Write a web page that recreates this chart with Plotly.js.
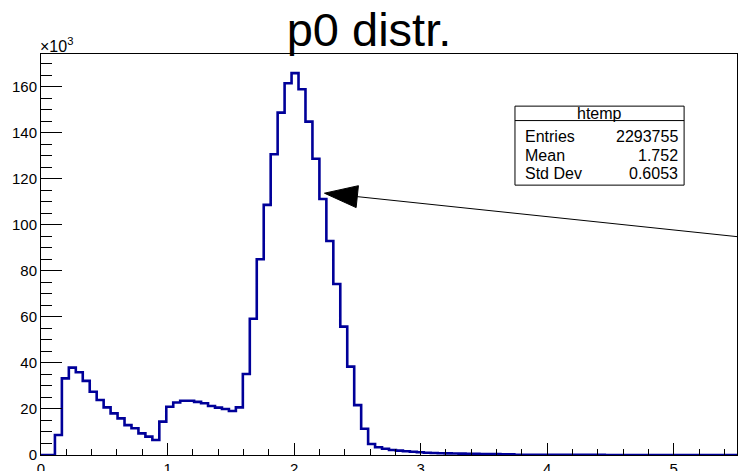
<!DOCTYPE html>
<html>
<head>
<meta charset="utf-8">
<script src="https://cdn.plot.ly/plotly-3.0.1.min.js"></script>
<style>
  html, body { margin: 0; padding: 0; background: #fff; }
  #plot { width: 738px; height: 471px; }
</style>
</head>
<body>
<div id="plot"></div>
<script>
// Histogram "htemp": 100 bins on [0, 5.5], contents in units of 10^3 entries
const binLow = 0.0;
const binHigh = 5.5;
const nBins = 100;
const binContents = [
  0, 0, 8.7, 33.3, 38.0, 36.0, 32.2, 27.5, 23.9, 20.7,
  18.1, 15.9, 13.0, 11.6, 9.4, 8.0, 6.5, 14.5, 21.0, 22.8,
  23.6, 23.6, 23.1, 22.5, 21.3, 20.6, 20.0, 19.1, 20.7, 35.2,
  59.2, 85.1, 108.7, 130.7, 148.8, 161.6, 166.0, 159.0, 144.9, 128.8,
  111.3, 93.0, 74.3, 55.8, 38.4, 21.7, 11.4, 4.8, 3.4, 2.7,
  2.2, 1.9, 1.6, 1.4, 1.2, 1.0, 0.9, 0.75, 0.7, 0.65,
  0.6, 0.55, 0.5, 0.45, 0.42, 0.38, 0.35, 0.32, 0.12, 0.11,
  0.10, 0.09, 0.08, 0.07, 0.07, 0.06, 0.05, 0.05, 0.04, 0.04,
  0.04, 0.03, 0.03, 0.03, 0.02, 0.02, 0.02, 0.02, 0.02, 0.01,
  0.01, 0.01, 0.01, 0.01, 0.01, 0.01, 0.01, 0.0, 0.0, 0.0
];

// Statistics box contents
const statsName = "htemp";
const statsLabels = ["Entries", "Mean", "Std Dev"];
const statsValues = ["2293755", "1.752", "0.6053"];

// Titles
const histTitle = "p0 distr.";
const yExponent = "\u00d710<sup>3</sup>";

// Arrow annotation (data coordinates: x, thousands of entries)
const arrowTip = [2.24, 113.8];
const arrowTail = [5.52, 94.8];
const arrowHeadLen = 33;   // px
const arrowHeadHalf = 11;  // px

// Figure geometry
const W = 738, H = 471;
const M = { l: 41, r: 1, t: 54, b: 16 };
const yMax = 174.3;
const FONT = "Liberation Sans, Arial, Helvetica, sans-serif";

// Step outline from bin edges
const binW = (binHigh - binLow) / nBins;
const xs = [], ys = [];
for (let i = 0; i < nBins; i++) {
  xs.push(binLow + i * binW);
  ys.push(binContents[i]);
}
xs.push(binHigh);
ys.push(binContents[nBins - 1]);

const hist = {
  type: "scatter",
  mode: "lines",
  x: xs,
  y: ys,
  line: { shape: "hv", color: "#000099", width: 2.6 },
  hoverinfo: "skip",
  showlegend: false
};

// Arrow head triangle computed in pixel space, expressed in data units
const pxX = (W - M.l - M.r) / (binHigh - binLow);
const pxY = (H - M.t - M.b) / yMax;
const dxp = (arrowTail[0] - arrowTip[0]) * pxX;
const dyp = -(arrowTail[1] - arrowTip[1]) * pxY;
const len = Math.hypot(dxp, dyp);
const ux = dxp / len, uy = dyp / len;
const bx = ux * arrowHeadLen, by = uy * arrowHeadLen;
const p1 = [arrowTip[0] + (bx - uy * arrowHeadHalf) / pxX, arrowTip[1] - (by + ux * arrowHeadHalf) / pxY];
const p2 = [arrowTip[0] + (bx + uy * arrowHeadHalf) / pxX, arrowTip[1] - (by - ux * arrowHeadHalf) / pxY];
const baseMid = [arrowTip[0] + bx / pxX, arrowTip[1] - by / pxY];

// Stats box in paper coordinates
const box = { x0: 0.681, x1: 0.924, y0: 0.673, y1: 0.870, sep: 0.834 };
const rowY = [0.795, 0.748, 0.702];

const shapes = [
  { type: "line", xref: "x", yref: "y", x0: baseMid[0], y0: baseMid[1], x1: arrowTail[0], y1: arrowTail[1],
    line: { color: "#000", width: 1 } },
  { type: "path", xref: "x", yref: "y",
    path: `M ${arrowTip[0]},${arrowTip[1]} L ${p1[0]},${p1[1]} L ${p2[0]},${p2[1]} Z`,
    fillcolor: "#000", line: { color: "#000", width: 1 } },
  { type: "rect", xref: "paper", yref: "paper", x0: box.x0, x1: box.x1, y0: box.y0, y1: box.y1,
    fillcolor: "#fff", line: { color: "#000", width: 1 } },
  { type: "line", xref: "paper", yref: "paper", x0: box.x0, x1: box.x1, y0: box.sep, y1: box.sep,
    line: { color: "#000", width: 1 } }
];

const annotations = [
  { xref: "paper", yref: "paper", x: -0.004, y: 0.992, xanchor: "left", yanchor: "bottom",
    text: yExponent, showarrow: false, font: { family: FONT, size: 16, color: "#000" } },
  { xref: "paper", yref: "paper", x: (box.x0 + box.x1) / 2, y: 0.851, xanchor: "center", yanchor: "middle",
    text: statsName, showarrow: false, font: { family: FONT, size: 16, color: "#000" } }
];
statsLabels.forEach((lab, i) => {
  annotations.push({ xref: "paper", yref: "paper", x: box.x0 + 0.012, y: rowY[i], xanchor: "left", yanchor: "middle",
    text: lab, showarrow: false, font: { family: FONT, size: 16, color: "#000" } });
  annotations.push({ xref: "paper", yref: "paper", x: box.x1 - 0.006, y: rowY[i], xanchor: "right", yanchor: "middle",
    text: statsValues[i], showarrow: false, font: { family: FONT, size: 16, color: "#000" } });
});

const layout = {
  width: W,
  height: H,
  margin: M,
  paper_bgcolor: "#fff",
  plot_bgcolor: "#fff",
  showlegend: false,
  title: {
    text: histTitle,
    x: 0.5, xref: "container", xanchor: "center",
    y: 0.937, yref: "container", yanchor: "middle",
    font: { family: FONT, size: 47, color: "#000" }
  },
  xaxis: {
    range: [binLow, binHigh],
    showgrid: false, zeroline: false,
    showline: true, linecolor: "#000", linewidth: 1, mirror: true,
    ticks: "inside", ticklen: 12, tickwidth: 1, tickcolor: "#000",
    dtick: 1, tick0: 0,
    minor: { dtick: 0.2, tick0: 0, ticks: "inside", ticklen: 6, tickwidth: 1, tickcolor: "#000", showgrid: false },
    tickfont: { family: FONT, size: 15, color: "#000" }
  },
  yaxis: {
    range: [0, yMax],
    showgrid: false, zeroline: false,
    showline: true, linecolor: "#000", linewidth: 1, mirror: true,
    ticks: "inside", ticklen: 21, tickwidth: 1, tickcolor: "#000",
    dtick: 20, tick0: 0,
    minor: { dtick: 5, tick0: 0, ticks: "inside", ticklen: 11, tickwidth: 1, tickcolor: "#000", showgrid: false },
    tickfont: { family: FONT, size: 15, color: "#000" }
  },
  shapes: shapes,
  annotations: annotations
};

Plotly.newPlot("plot", [hist], layout, { staticPlot: true, displayModeBar: false });
</script>
</body>
</html>
